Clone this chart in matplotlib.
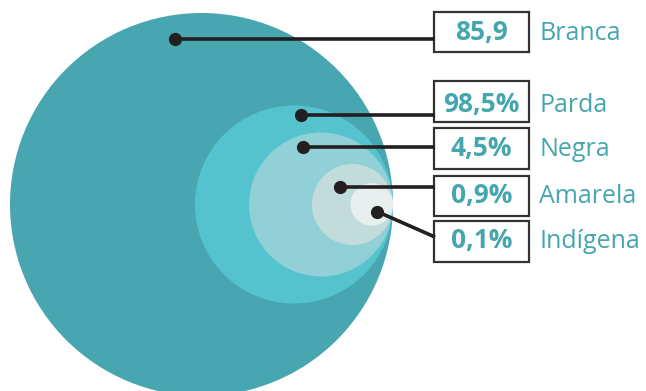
import matplotlib.pyplot as plt
from matplotlib.patches import Circle, Rectangle

# Data
groups = ["Branca", "Parda", "Negra", "Amarela", "Indígena"]
values = ["85,9", "98,5%", "4,5%", "0,9%", "0,1%"]
radii = [191.5, 99.0, 72.0, 40.5, 21.3]

colors = ["#47a6b0", "#55c3ce", "#90d0d6", "#c2dcdc", "#e7eeee"]
teal = "#45a6ae"
ink = "#231f20"

# layout in pixel units
right_edge = 393
cy = 204.5
dots = [(175, 39), (301, 115), (303, 146.5), (340, 187), (377, 211.5)]
line_ends = [(435, 39), (435, 115), (435, 146.5), (435, 187), (435, 237)]
box_y = [(11.7, 52.3), (81, 122.3), (128.3, 169), (175.7, 216), (221, 261.7)]
baselines = [40, 111.7, 156, 202.7, 248.3]
box_x = (434, 528.5)

fig = plt.figure(figsize=(6.46, 3.91), dpi=100)
ax = fig.add_axes([0, 0, 1, 1])
ax.set_xlim(0, 646)
ax.set_ylim(391, 0)
ax.axis("off")

for r, c in zip(radii, colors):
    ax.add_patch(Circle((right_edge - r, cy), r, color=c, lw=0))

for (x0, y0), (x1, y1) in zip(dots, line_ends):
    ax.plot([x0, x1], [y0, y1], color=ink, lw=2.6, solid_capstyle="butt")
    ax.plot(x0, y0, "o", color=ink, ms=8.5)

for g, v, (y0, y1), yb in zip(groups, values, box_y, baselines):
    ax.add_patch(Rectangle((box_x[0], y0), box_x[1] - box_x[0], y1 - y0,
                           fill=True, facecolor="white", edgecolor="#333333", lw=1.6))
    ax.text((box_x[0] + box_x[1]) / 2, yb, v, ha="center", va="baseline",
            color=teal, fontsize=19, fontweight="bold", family="Open Sans")
    ax.text(539, yb, g, ha="left", va="baseline", color=teal,
            fontsize=18, family="Open Sans")

fig.savefig("out.png", dpi=100)
